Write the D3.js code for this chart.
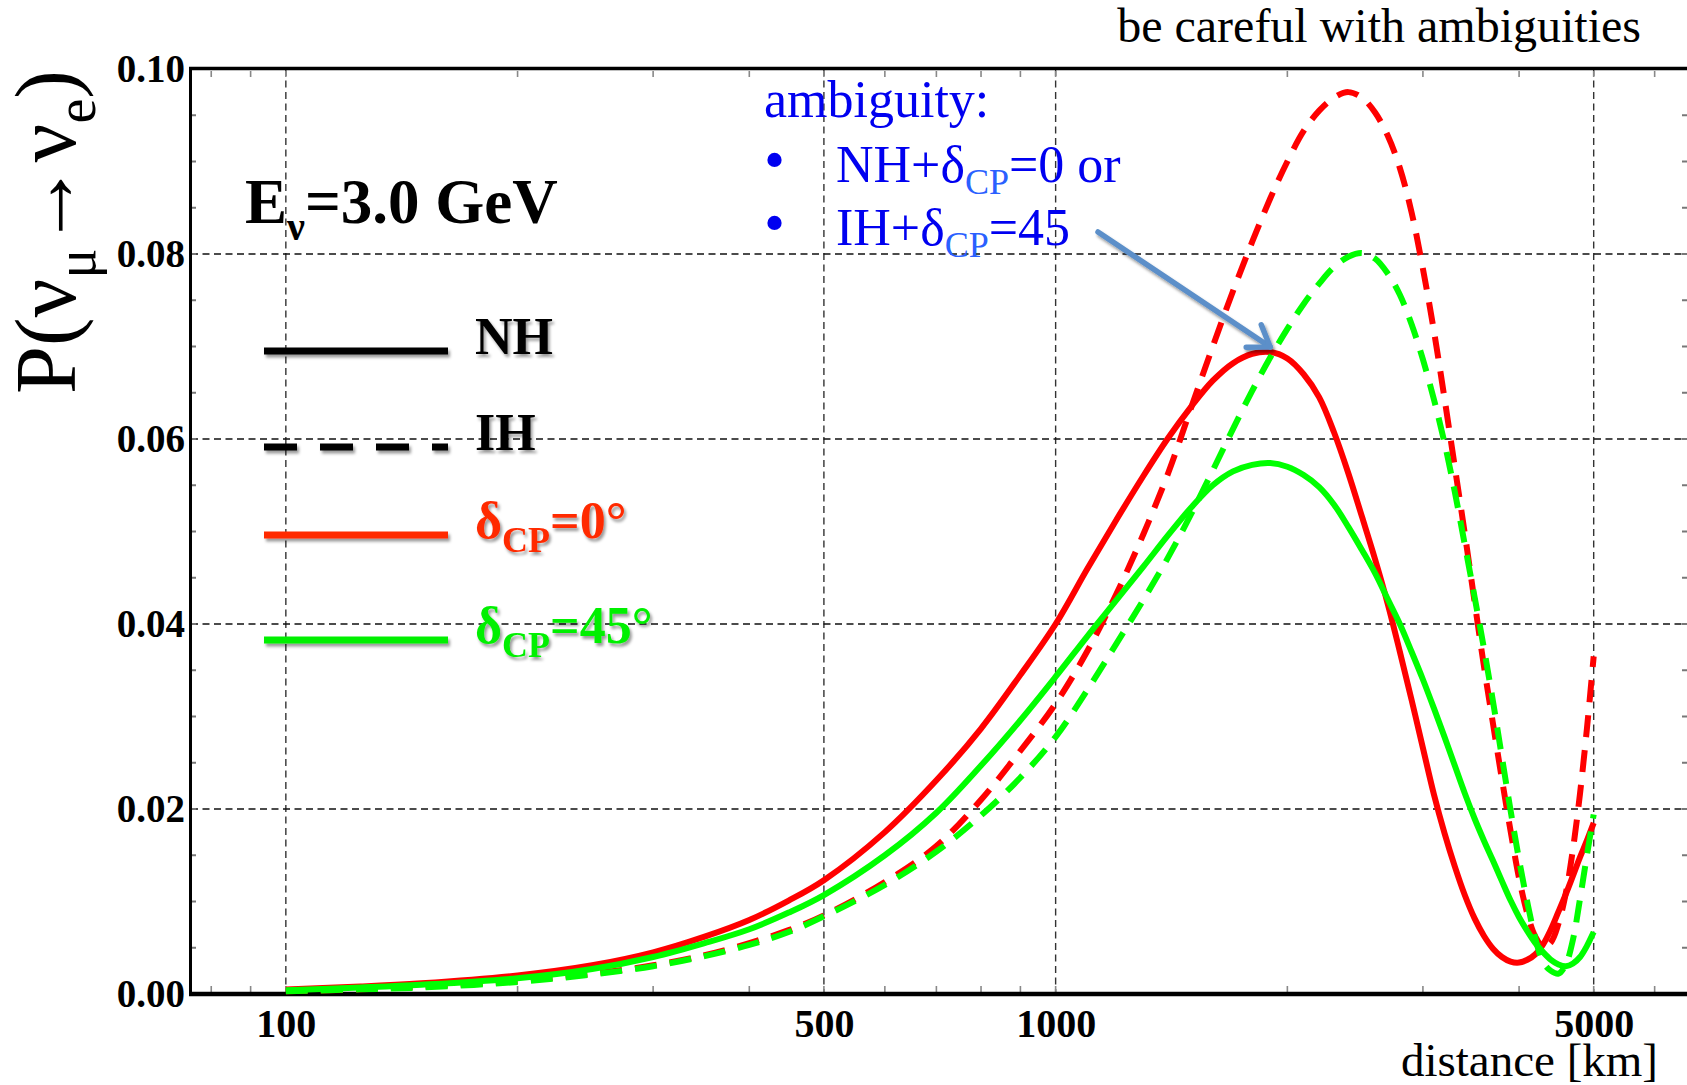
<!DOCTYPE html>
<html>
<head>
<meta charset="utf-8">
<script src="https://cdn.jsdelivr.net/npm/d3@7"></script>
<style>
  body { margin: 0; background: #fff; }
  svg { display: block; }
</style>
</head>
<body>
<script>
// baseline distances [km]
const distances = [100, 125, 150, 200, 250, 300, 350, 400, 450, 500,
  600, 700, 800, 900, 1000, 1100, 1200, 1300, 1400, 1500,
  1600, 1700, 1800, 1900, 2000, 2100, 2200, 2300, 2400, 2500,
  2600, 2700, 2800, 2900, 3000, 3100, 3200, 3300, 3400, 3500,
  3600, 3700, 3800, 3900, 4000, 4100, 4200, 4300, 4400, 4500,
  4600, 4700, 4800, 4900, 5000];

// P(numu -> nue)
const nhDelta0 = [0.0005, 0.0008, 0.00115, 0.0020, 0.0031, 0.0045, 0.0062, 0.0080, 0.0101, 0.0123,
  0.0175, 0.0231, 0.0287, 0.0345, 0.0400, 0.0460, 0.0513, 0.0560, 0.0601, 0.0635,
  0.0663, 0.0682, 0.0692, 0.0694, 0.0687, 0.0670, 0.0645, 0.0607, 0.0563, 0.0516,
  0.0470, 0.0422, 0.0370, 0.0318, 0.0266, 0.0216, 0.0174, 0.0138, 0.0107, 0.0082,
  0.0063, 0.0049, 0.0040, 0.0035, 0.0034, 0.0037, 0.0043, 0.0054, 0.0070, 0.0089,
  0.0108, 0.0128, 0.0148, 0.0166, 0.0185];

const nhDelta45 = [0.0004, 0.0007, 0.0010, 0.0017, 0.0027, 0.0040, 0.0055, 0.0070, 0.0088, 0.0107,
  0.0150, 0.0196, 0.0247, 0.0296, 0.0343, 0.0387, 0.0426, 0.0462, 0.0496, 0.0526,
  0.0550, 0.0565, 0.0572, 0.0574, 0.0570, 0.0561, 0.0548, 0.0529, 0.0505, 0.0480,
  0.0455, 0.0427, 0.0400, 0.0370, 0.0340, 0.0309, 0.0278, 0.0247, 0.0217, 0.0190,
  0.0166, 0.0144, 0.0122, 0.0101, 0.0083, 0.0068, 0.0055, 0.0045, 0.0037, 0.0032,
  0.0030, 0.0033, 0.0040, 0.0052, 0.0067];

const ihDelta0 = [0.0003, 0.0005, 0.0008, 0.0014, 0.0022, 0.0031, 0.0042, 0.0055, 0.0069, 0.0085,
  0.0121, 0.0160, 0.0210, 0.0263, 0.0314, 0.0371, 0.0433, 0.0497, 0.0563, 0.0634,
  0.0700, 0.0760, 0.0813, 0.0860, 0.0900, 0.0933, 0.0955, 0.0969, 0.0975, 0.0969,
  0.0953, 0.0928, 0.0893, 0.0845, 0.0784, 0.0717, 0.0644, 0.0570, 0.0498, 0.0425,
  0.0355, 0.0292, 0.0232, 0.0176, 0.0125, 0.0087, 0.0062, 0.0051, 0.0056, 0.0076,
  0.0109, 0.0157, 0.0217, 0.0287, 0.0365];

const ihDelta45 = [0.0003, 0.0005, 0.0007, 0.0013, 0.0021, 0.0030, 0.0041, 0.0053, 0.0067, 0.0084,
  0.0118, 0.0154, 0.0193, 0.0234, 0.0278, 0.0329, 0.0379, 0.0426, 0.0472, 0.0519,
  0.0566, 0.0611, 0.0652, 0.0688, 0.0719, 0.0746, 0.0768, 0.0786, 0.0797, 0.0801,
  0.0795, 0.0779, 0.0756, 0.0724, 0.0686, 0.0643, 0.0596, 0.0543, 0.0486, 0.0430,
  0.0374, 0.0316, 0.0256, 0.0198, 0.0145, 0.0099, 0.0060, 0.0034, 0.0025, 0.0022,
  0.0032, 0.0059, 0.0103, 0.0150, 0.0194];

const xTickValues = [100, 500, 1000, 5000];
const yTickValues = [0, 0.02, 0.04, 0.06, 0.08, 0.10];
const yGridValues = [0.02, 0.04, 0.06, 0.08];

const W = 1687, H = 1085;
const red = "#ff0000", green = "#00ff00";
const serif = "Liberation Serif";

const svg = d3.select("body").append("svg")
  .attr("width", W)
  .attr("height", H)
  .attr("font-family", serif);

const defs = svg.append("defs");
const shadow = defs.append("filter").attr("id", "shadow")
  .attr("filterUnits", "userSpaceOnUse")
  .attr("x", 0).attr("y", 0).attr("width", W).attr("height", H);
shadow.append("feDropShadow")
  .attr("dx", 2).attr("dy", 3).attr("stdDeviation", 1.6)
  .attr("flood-color", "#000").attr("flood-opacity", 0.4);

const x = d3.scaleLog().domain([75.3, 6590]).range([191, 1686]);
const y = d3.scaleLinear().domain([0, 0.1]).range([994, 69]);

// grid
svg.append("g").selectAll("line")
  .data(xTickValues)
  .enter().append("line")
  .attr("x1", d => x(d)).attr("x2", d => x(d))
  .attr("y1", y(0.1)).attr("y2", y(0))
  .attr("stroke", "#333").attr("stroke-width", 1.4)
  .attr("stroke-dasharray", "7,4.5");

svg.append("g").selectAll("line")
  .data(yGridValues)
  .enter().append("line")
  .attr("x1", x.range()[0]).attr("x2", W)
  .attr("y1", d => y(d)).attr("y2", d => y(d))
  .attr("stroke", "#111").attr("stroke-width", 1.4)
  .attr("stroke-dasharray", "7,4.5");

// minor ticks
const minor = x.ticks();
svg.append("g").selectAll("line")
  .data(minor)
  .enter().append("line")
  .attr("x1", d => x(d)).attr("x2", d => x(d))
  .attr("y1", y(0) - 2).attr("y2", y(0) - 8)
  .attr("stroke", "#888").attr("stroke-width", 1.6);
svg.append("g").selectAll("line")
  .data(minor)
  .enter().append("line")
  .attr("x1", d => x(d)).attr("x2", d => x(d))
  .attr("y1", y(0.1) + 2).attr("y2", y(0.1) + 8)
  .attr("stroke", "#888").attr("stroke-width", 1.6);

const yMinor = d3.range(0, 0.1001, 0.005);
svg.append("g").selectAll("line")
  .data(yMinor)
  .enter().append("line")
  .attr("x1", 192).attr("x2", 196)
  .attr("y1", d => y(d)).attr("y2", d => y(d))
  .attr("stroke", "#777").attr("stroke-width", 2);
svg.append("g").selectAll("line")
  .data(yMinor)
  .enter().append("line")
  .attr("x1", W - 5).attr("x2", W)
  .attr("y1", d => y(d)).attr("y2", d => y(d))
  .attr("stroke", "#777").attr("stroke-width", 2);

// frame
svg.append("line").attr("x1", 189).attr("x2", W).attr("y1", 68.5).attr("y2", 68.5)
  .attr("stroke", "#000").attr("stroke-width", 3.5);
svg.append("line").attr("x1", 190.5).attr("x2", 190.5).attr("y1", 67).attr("y2", 996)
  .attr("stroke", "#000").attr("stroke-width", 3);
svg.append("line").attr("x1", 189).attr("x2", W).attr("y1", 994).attr("y2", 994)
  .attr("stroke", "#000").attr("stroke-width", 4.5);

// axes labels
const xAxis = svg.append("g")
  .attr("transform", `translate(0,${y(0)})`)
  .call(d3.axisBottom(x).tickValues(xTickValues).tickSize(0).tickPadding(15).tickFormat(d3.format("d")));
xAxis.select(".domain").remove();
xAxis.attr("font-family", serif).attr("font-size", 40);
xAxis.selectAll("text")
  .attr("font-weight", "bold").attr("fill", "#000");

const yAxis = svg.append("g")
  .attr("transform", `translate(${x.range()[0]},0)`)
  .call(d3.axisLeft(y).tickValues(yTickValues).tickSize(0).tickPadding(6).tickFormat(d3.format(".2f")));
yAxis.select(".domain").remove();
yAxis.attr("font-family", serif).attr("font-size", 39);
yAxis.selectAll("text")
  .attr("font-weight", "bold").attr("fill", "#000");

// curves
const line = d3.line()
  .x((d, i) => x(distances[i]))
  .y(d => y(d))
  .curve(d3.curveCatmullRom.alpha(0.5));

const curves = [
  { values: nhDelta0, color: red, dash: null },
  { values: ihDelta0, color: red, dash: "22,13" },
  { values: nhDelta45, color: green, dash: null },
  { values: ihDelta45, color: green, dash: "22,13" }
];
svg.append("g").selectAll("path")
  .data(curves)
  .enter().append("path")
  .attr("d", d => line(d.values))
  .attr("fill", "none")
  .attr("stroke", d => d.color)
  .attr("stroke-width", 6)
  .attr("stroke-dasharray", d => d.dash);

// texts
svg.append("text")
  .attr("x", 1641).attr("y", 42)
  .attr("text-anchor", "end")
  .attr("font-family", serif)
  .attr("font-size", 48)
  .text("be careful with ambiguities");

svg.append("text")
  .attr("x", 1658).attr("y", 1076)
  .attr("text-anchor", "end")
  .attr("font-family", serif)
  .attr("font-size", 47)
  .text("distance [km]");

const yl = svg.append("text")
  .attr("transform", "translate(75,232) rotate(-90)")
  .attr("text-anchor", "middle")
  .attr("font-family", serif)
  .attr("font-size", 86);
yl.append("tspan").text("P(ν");
yl.append("tspan").attr("font-size", 56).attr("dy", 20).text("μ");
yl.append("tspan").attr("dy", -20).text("→ν");
yl.append("tspan").attr("font-size", 56).attr("dy", 20).text("e");
yl.append("tspan").attr("dy", -20).text(")");

const ev = svg.append("text")
  .attr("x", 245).attr("y", 223)
  .attr("font-family", serif)
  .attr("font-weight", "bold")
  .attr("font-size", 63);
ev.append("tspan").text("E");
ev.append("tspan").attr("font-size", 40).attr("dy", 17).text("ν");
ev.append("tspan").attr("dy", -17).text("=3.0 GeV");

// legend
const legend = [
  { label: "NH", color: "#000", dash: null, y: 351 },
  { label: "IH", color: "#000", dash: "33,23", y: 447 },
  { label: "δ", sub: "CP", rest: "=0°", color: "#ff2a00", dash: null, y: 535 },
  { label: "δ", sub: "CP", rest: "=45°", color: "#00f000", dash: null, y: 640 }
];
const lg = svg.append("g");
legend.forEach(d => {
  lg.append("line")
    .attr("x1", 264).attr("x2", 448)
    .attr("y1", d.y).attr("y2", d.y)
    .attr("stroke", d.color).attr("stroke-width", 7)
    .attr("stroke-dasharray", d.dash)
    .attr("filter", "url(#shadow)");
  const t = lg.append("text")
    .attr("x", 475).attr("y", d.y + 3)
    .attr("font-family", serif)
    .attr("font-weight", "bold").attr("font-size", 52)
    .attr("fill", d.color)
    .attr("filter", "url(#shadow)");
  t.append("tspan").text(d.label);
  if (d.sub) {
    t.append("tspan").attr("font-size", 36).attr("dy", 14).text(d.sub);
    t.append("tspan").attr("dy", -14).text(d.rest);
  }
});

// ambiguity note
const blue = "#0000f0", lightBlue = "#2a60ff";
svg.append("text")
  .attr("x", 764).attr("y", 117)
  .attr("font-family", serif)
  .attr("font-size", 52).attr("fill", blue)
  .text("ambiguity:");

const notes = [
  { head: "NH+δ", tail: "=0 or", y: 182 },
  { head: "IH+δ", tail: "=45", y: 245 }
];
notes.forEach(n => {
  svg.append("text")
    .attr("x", 764).attr("y", n.y - 2)
    .attr("font-family", serif)
    .attr("font-size", 60).attr("fill", blue)
    .text("•");
  const t = svg.append("text")
    .attr("x", 836).attr("y", n.y)
    .attr("font-family", serif)
    .attr("font-size", 52).attr("fill", blue);
  t.append("tspan").text(n.head);
  t.append("tspan").attr("font-size", 36).attr("dy", 12).attr("fill", lightBlue).text("CP");
  t.append("tspan").attr("dy", -12).text(n.tail);
});

// arrow to the NH peak
const tip = [x(1900), y(0.0694) - 5];
const start = [1098, 232];
const ang = Math.atan2(tip[1] - start[1], tip[0] - start[0]);
const head = 24;
const ag = svg.append("g")
  .attr("stroke", "#5b8fc9").attr("stroke-width", 5.5)
  .attr("stroke-linecap", "round").attr("fill", "none")
  .attr("filter", "url(#shadow)");
ag.append("line")
  .attr("x1", start[0]).attr("y1", start[1])
  .attr("x2", tip[0]).attr("y2", tip[1]);
ag.append("path")
  .attr("d", d3.line()([
    [tip[0] - head * Math.cos(ang - 0.6), tip[1] - head * Math.sin(ang - 0.6)],
    tip,
    [tip[0] - head * Math.cos(ang + 0.6), tip[1] - head * Math.sin(ang + 0.6)]
  ]))
  .attr("stroke-linejoin", "round");
</script>
</body>
</html>
